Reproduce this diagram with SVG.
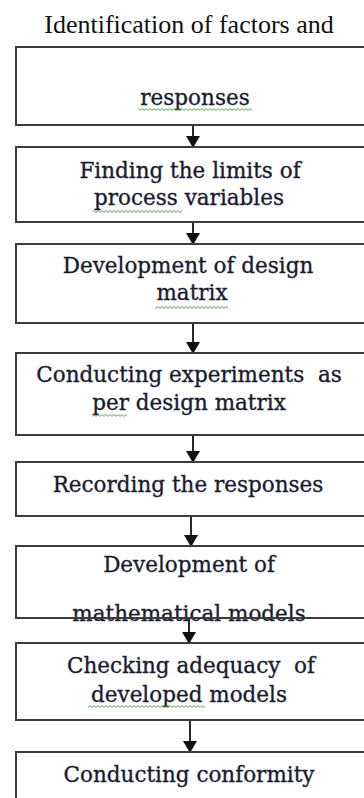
<svg xmlns="http://www.w3.org/2000/svg" width="364" height="798" viewBox="0 0 364 798">
  <style>
    .box { fill: #ffffff; stroke: #3c3c3c; stroke-width: 2; }
    .lbl { font-family: "DejaVu Serif", "Liberation Serif", serif; font-size: 21.5px; fill: #1c1c30; stroke: #1c1c30; stroke-width: 0.35; text-anchor: middle; white-space: pre; }
    .title { font-family: "Liberation Serif", "Times New Roman", serif; font-size: 26px; fill: #111111; text-anchor: middle; }
    .flow { stroke: #111111; stroke-width: 1.8; fill: none; }
    .wave { fill: url(#squiggle); }
  </style>
  <defs>
    <marker id="head" viewBox="0 0 12 14" refX="11" refY="7" markerWidth="12" markerHeight="14" markerUnits="userSpaceOnUse" orient="auto">
      <path d="M0,0 L12,7 L0,14 Z" fill="#111111"/>
    </marker>
    <!-- spell-check style wavy underline -->
    <pattern id="squiggle" patternUnits="userSpaceOnUse" x="0" y="0" width="4" height="3">
      <path d="M0,2.4 L2,0.6 L4,2.4" fill="none" stroke="#3fa03f" stroke-width="0.9"/>
    </pattern>
  </defs>

  <rect width="364" height="798" fill="#ffffff"/>

  <text class="title" x="189" y="33">Identification of factors and</text>

  <g id="connectors">
    <line class="flow" x1="193" y1="125" x2="193" y2="147" marker-end="url(#head)"/>
    <line class="flow" x1="193" y1="222" x2="193" y2="244" marker-end="url(#head)"/>
    <line class="flow" x1="193" y1="323" x2="193" y2="353" marker-end="url(#head)"/>
    <line class="flow" x1="193" y1="435" x2="193" y2="462" marker-end="url(#head)"/>
    <line class="flow" x1="191" y1="516" x2="191" y2="546" marker-end="url(#head)"/>
    <line class="flow" x1="189" y1="618" x2="189" y2="643" marker-end="url(#head)"/>
    <line class="flow" x1="190" y1="720" x2="190" y2="752" marker-end="url(#head)"/>
  </g>

  <g id="identification">
    <rect class="box" x="16" y="47" width="370" height="78"/>
    <text class="lbl" x="195" y="105">responses</text>
    <rect class="wave" x="138" y="108" width="114" height="3"/>
  </g>

  <g id="limits">
    <rect class="box" x="16" y="147" width="370" height="75"/>
    <text class="lbl" x="190" y="178">Finding the limits of</text>
    <text class="lbl" x="189" y="205">process variables</text>
    <rect class="wave" x="93" y="210" width="89" height="3"/>
  </g>

  <g id="design-matrix">
    <rect class="box" x="16" y="244" width="370" height="79"/>
    <text class="lbl" x="188" y="273">Development of design</text>
    <text class="lbl" x="192" y="300">matrix</text>
    <rect class="wave" x="155" y="306" width="73" height="3"/>
  </g>

  <g id="experiments">
    <rect class="box" x="16" y="353" width="370" height="82"/>
    <text class="lbl" x="189" y="382">Conducting experiments  as</text>
    <text class="lbl" x="189" y="410">per design matrix</text>
    <rect class="wave" x="92" y="414" width="35" height="3"/>
  </g>

  <g id="recording">
    <rect class="box" x="16" y="462" width="370" height="54"/>
    <text class="lbl" x="188" y="492">Recording the responses</text>
  </g>

  <g id="models">
    <rect class="box" x="16" y="546" width="370" height="72"/>
    <text class="lbl" x="189" y="572">Development of</text>
    <text class="lbl" x="189" y="621">mathematical models</text>
    <line x1="16" y1="618" x2="364" y2="618" stroke="#3c3c3c" stroke-width="2"/>
  </g>

  <g id="adequacy">
    <rect class="box" x="16" y="643" width="370" height="77"/>
    <text class="lbl" x="191" y="673">Checking adequacy  of</text>
    <text class="lbl" x="189" y="702">developed models</text>
    <rect class="wave" x="88" y="705" width="117" height="3"/>
  </g>

  <g id="conformity">
    <rect class="box" x="16" y="752" width="370" height="80"/>
    <text class="lbl" x="189" y="782">Conducting conformity</text>
  </g>
</svg>
